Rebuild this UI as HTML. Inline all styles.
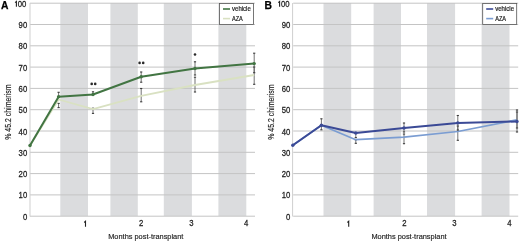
<!DOCTYPE html>
<html><head><meta charset="utf-8"><style>
html,body{margin:0;padding:0;background:#fff;}
body{width:520px;height:242px;overflow:hidden;}
svg{display:block;}
svg{will-change:transform;}
text{font-family:"Liberation Sans", sans-serif;}
</style></head><body>
<svg width="520" height="242" viewBox="0 0 520 242">
<rect width="520" height="242" fill="#fff"/>

<g transform="translate(0,0)">
<rect x="60.3" y="3" width="27.700000000000003" height="213" fill="#dbdcde"/>
<rect x="110.4" y="3" width="27.400000000000006" height="213" fill="#dbdcde"/>
<rect x="163.8" y="3" width="28.099999999999994" height="213" fill="#dbdcde"/>
<rect x="218.4" y="3" width="27.900000000000006" height="213" fill="#dbdcde"/>
<line x1="30" x2="255" y1="216.2" y2="216.2" stroke="#c4c4c4" stroke-width="1"/>
<line x1="30" x2="255" y1="194.9" y2="194.9" stroke="#c4c4c4" stroke-width="1"/>
<line x1="30" x2="255" y1="173.6" y2="173.6" stroke="#c4c4c4" stroke-width="1"/>
<line x1="30" x2="255" y1="152.3" y2="152.3" stroke="#c4c4c4" stroke-width="1"/>
<line x1="30" x2="255" y1="131.0" y2="131.0" stroke="#c4c4c4" stroke-width="1"/>
<line x1="30" x2="255" y1="109.7" y2="109.7" stroke="#c4c4c4" stroke-width="1"/>
<line x1="30" x2="255" y1="88.4" y2="88.4" stroke="#c4c4c4" stroke-width="1"/>
<line x1="30" x2="255" y1="67.1" y2="67.1" stroke="#c4c4c4" stroke-width="1"/>
<line x1="30" x2="255" y1="45.8" y2="45.8" stroke="#c4c4c4" stroke-width="1"/>
<line x1="30" x2="255" y1="24.5" y2="24.5" stroke="#c4c4c4" stroke-width="1"/>
<line x1="30" x2="255" y1="3.2" y2="3.2" stroke="#c4c4c4" stroke-width="1"/>
<line x1="30" x2="30" y1="3" y2="216.5" stroke="#cfcfcf" stroke-width="1"/>
<text transform="translate(27.20,219.70) scale(0.92,1)" font-size="8.4" text-anchor="end" fill="#222" stroke="#222" stroke-width="0.25">0</text>
<text transform="translate(27.20,198.40) scale(0.92,1)" font-size="8.4" text-anchor="end" fill="#222" stroke="#222" stroke-width="0.25">10</text>
<text transform="translate(27.20,177.10) scale(0.92,1)" font-size="8.4" text-anchor="end" fill="#222" stroke="#222" stroke-width="0.25">20</text>
<text transform="translate(27.20,155.80) scale(0.92,1)" font-size="8.4" text-anchor="end" fill="#222" stroke="#222" stroke-width="0.25">30</text>
<text transform="translate(27.20,134.50) scale(0.92,1)" font-size="8.4" text-anchor="end" fill="#222" stroke="#222" stroke-width="0.25">40</text>
<text transform="translate(27.20,113.20) scale(0.92,1)" font-size="8.4" text-anchor="end" fill="#222" stroke="#222" stroke-width="0.25">50</text>
<text transform="translate(27.20,91.90) scale(0.92,1)" font-size="8.4" text-anchor="end" fill="#222" stroke="#222" stroke-width="0.25">60</text>
<text transform="translate(27.20,70.60) scale(0.92,1)" font-size="8.4" text-anchor="end" fill="#222" stroke="#222" stroke-width="0.25">70</text>
<text transform="translate(27.20,49.30) scale(0.92,1)" font-size="8.4" text-anchor="end" fill="#222" stroke="#222" stroke-width="0.25">80</text>
<text transform="translate(27.20,28.00) scale(0.92,1)" font-size="8.4" text-anchor="end" fill="#222" stroke="#222" stroke-width="0.25">90</text>
<text transform="translate(26.30,7.00) scale(0.92,1)" font-size="8.4" text-anchor="end" fill="#222" stroke="#222" stroke-width="0.25">00</text>
<path d="M15.1,2.6 L16.4,1.4 L16.4,6.8" fill="none" stroke="#222" stroke-width="1.1" stroke-linejoin="miter"/>
<path d="M84.20,222.5 L85.50,221.3 L85.50,226.7" fill="none" stroke="#222" stroke-width="1.1" stroke-linejoin="miter"/>
<text transform="translate(141.2,226.1) scale(0.92,1)" font-size="8.4" text-anchor="middle" fill="#222" stroke="#222" stroke-width="0.25">2</text>
<text transform="translate(191.3,226.1) scale(0.92,1)" font-size="8.4" text-anchor="middle" fill="#222" stroke="#222" stroke-width="0.25">3</text>
<text transform="translate(246.2,226.1) scale(0.92,1)" font-size="8.4" text-anchor="middle" fill="#222" stroke="#222" stroke-width="0.25">4</text>
<text x="145.8" y="238.6" font-size="7.4" text-anchor="middle" fill="#222" stroke="#222" stroke-width="0.15">Months post-transplant</text>
<text transform="translate(11,112.2) rotate(-90) scale(0.85,1)" x="0" y="0" font-size="8.2" text-anchor="middle" fill="#222" stroke="#222" stroke-width="0.15">% 45.2 chimerism</text>
<text x="1.1" y="8.6" font-size="10.3" font-weight="bold" fill="#000" stroke="#000" stroke-width="0.25">A</text>
<g transform="translate(0,0)">
<line x1="58.6" x2="58.6" y1="103.4" y2="107.6" stroke="#5a5a5a" stroke-width="0.85"/><line x1="57.5" x2="59.7" y1="103.4" y2="103.4" stroke="#3c3c3c" stroke-width="1.1"/><line x1="57.5" x2="59.7" y1="107.6" y2="107.6" stroke="#3c3c3c" stroke-width="1.1"/>
<line x1="93" x2="93" y1="108.2" y2="113.4" stroke="#5a5a5a" stroke-width="0.85"/><line x1="91.9" x2="94.1" y1="108.2" y2="108.2" stroke="#3c3c3c" stroke-width="1.1"/><line x1="91.9" x2="94.1" y1="113.4" y2="113.4" stroke="#3c3c3c" stroke-width="1.1"/>
<line x1="141.2" x2="141.2" y1="88.5" y2="101.8" stroke="#5a5a5a" stroke-width="0.85"/><line x1="140.1" x2="142.29999999999998" y1="88.5" y2="88.5" stroke="#3c3c3c" stroke-width="1.1"/><line x1="140.1" x2="142.29999999999998" y1="101.8" y2="101.8" stroke="#3c3c3c" stroke-width="1.1"/>
<line x1="195" x2="195" y1="77.2" y2="92" stroke="#5a5a5a" stroke-width="0.85"/><line x1="193.9" x2="196.1" y1="77.2" y2="77.2" stroke="#3c3c3c" stroke-width="1.1"/><line x1="193.9" x2="196.1" y1="92" y2="92" stroke="#3c3c3c" stroke-width="1.1"/>
<line x1="254.2" x2="254.2" y1="67" y2="84.3" stroke="#5a5a5a" stroke-width="0.85"/><line x1="253.1" x2="255.29999999999998" y1="67" y2="67" stroke="#3c3c3c" stroke-width="1.1"/><line x1="253.1" x2="255.29999999999998" y1="84.3" y2="84.3" stroke="#3c3c3c" stroke-width="1.1"/>
<polyline points="30,145.5 58.6,99.5 93,109.2 141.2,95.9 195,85 254.2,75.0" fill="none" stroke="#d9e1c2" stroke-width="1.8" stroke-linejoin="round"/>
<line x1="58.6" x2="58.6" y1="92.3" y2="96.8" stroke="#5a5a5a" stroke-width="0.85"/><line x1="57.5" x2="59.7" y1="92.3" y2="92.3" stroke="#3c3c3c" stroke-width="1.1"/><line x1="57.5" x2="59.7" y1="96.8" y2="96.8" stroke="#3c3c3c" stroke-width="1.1"/>
<line x1="93" x2="93" y1="91.8" y2="94.5" stroke="#5a5a5a" stroke-width="0.85"/><line x1="91.9" x2="94.1" y1="91.8" y2="91.8" stroke="#3c3c3c" stroke-width="1.1"/><line x1="91.9" x2="94.1" y1="94.5" y2="94.5" stroke="#3c3c3c" stroke-width="1.1"/>
<line x1="141.2" x2="141.2" y1="72" y2="82.2" stroke="#5a5a5a" stroke-width="0.85"/><line x1="140.1" x2="142.29999999999998" y1="72" y2="72" stroke="#3c3c3c" stroke-width="1.1"/><line x1="140.1" x2="142.29999999999998" y1="82.2" y2="82.2" stroke="#3c3c3c" stroke-width="1.1"/>
<line x1="195" x2="195" y1="61.8" y2="75" stroke="#5a5a5a" stroke-width="0.85"/><line x1="193.9" x2="196.1" y1="61.8" y2="61.8" stroke="#3c3c3c" stroke-width="1.1"/><line x1="193.9" x2="196.1" y1="75" y2="75" stroke="#3c3c3c" stroke-width="1.1"/>
<line x1="254.2" x2="254.2" y1="53.2" y2="72.7" stroke="#5a5a5a" stroke-width="0.85"/><line x1="253.1" x2="255.29999999999998" y1="53.2" y2="53.2" stroke="#3c3c3c" stroke-width="1.1"/><line x1="253.1" x2="255.29999999999998" y1="72.7" y2="72.7" stroke="#3c3c3c" stroke-width="1.1"/>
<polyline points="30,145.5 58.6,96.8 93,94.5 141.2,76.8 195,68.5 254.2,63.6" fill="none" stroke="#427543" stroke-width="2.0" stroke-linejoin="round"/>
<circle cx="30" cy="145.5" r="1.7" fill="#427543"/>
<circle cx="58.6" cy="96.8" r="1.7" fill="#427543"/>
<circle cx="93" cy="94.5" r="1.7" fill="#427543"/>
<circle cx="141.2" cy="76.8" r="1.7" fill="#427543"/>
<circle cx="195" cy="68.5" r="1.7" fill="#427543"/>
<circle cx="254.2" cy="63.6" r="1.7" fill="#427543"/>
</g>
<circle cx="91.7" cy="83.9" r="1.3" fill="#2a2a2a"/>
<circle cx="95.2" cy="83.9" r="1.3" fill="#2a2a2a"/>
<circle cx="139.6" cy="62.9" r="1.3" fill="#2a2a2a"/>
<circle cx="143.2" cy="62.9" r="1.3" fill="#2a2a2a"/>
<circle cx="195" cy="54.5" r="1.3" fill="#2a2a2a"/>
<rect x="219.5" y="3.5" width="34" height="21" fill="#fff" stroke="#555" stroke-width="0.8"/>
<line x1="223" x2="230" y1="9" y2="9" stroke="#427543" stroke-width="1.6"/>
<line x1="223" x2="230" y1="18.6" y2="18.6" stroke="#d9e1c2" stroke-width="1.6"/>
<text x="232" y="11" font-size="6.3" textLength="18.8" lengthAdjust="spacingAndGlyphs" fill="#222" stroke="#222" stroke-width="0.2">vehicle</text>
<text x="232" y="20.8" font-size="6.3" textLength="10.8" lengthAdjust="spacingAndGlyphs" fill="#222" stroke="#222" stroke-width="0.2">AZA</text>
</g>
<g transform="translate(263.2,0)">
<rect x="60.3" y="3" width="27.700000000000003" height="213" fill="#dbdcde"/>
<rect x="110.4" y="3" width="27.400000000000006" height="213" fill="#dbdcde"/>
<rect x="163.8" y="3" width="28.099999999999994" height="213" fill="#dbdcde"/>
<rect x="218.4" y="3" width="27.900000000000006" height="213" fill="#dbdcde"/>
<line x1="30" x2="255" y1="216.2" y2="216.2" stroke="#c4c4c4" stroke-width="1"/>
<line x1="30" x2="255" y1="194.9" y2="194.9" stroke="#c4c4c4" stroke-width="1"/>
<line x1="30" x2="255" y1="173.6" y2="173.6" stroke="#c4c4c4" stroke-width="1"/>
<line x1="30" x2="255" y1="152.3" y2="152.3" stroke="#c4c4c4" stroke-width="1"/>
<line x1="30" x2="255" y1="131.0" y2="131.0" stroke="#c4c4c4" stroke-width="1"/>
<line x1="30" x2="255" y1="109.7" y2="109.7" stroke="#c4c4c4" stroke-width="1"/>
<line x1="30" x2="255" y1="88.4" y2="88.4" stroke="#c4c4c4" stroke-width="1"/>
<line x1="30" x2="255" y1="67.1" y2="67.1" stroke="#c4c4c4" stroke-width="1"/>
<line x1="30" x2="255" y1="45.8" y2="45.8" stroke="#c4c4c4" stroke-width="1"/>
<line x1="30" x2="255" y1="24.5" y2="24.5" stroke="#c4c4c4" stroke-width="1"/>
<line x1="30" x2="255" y1="3.2" y2="3.2" stroke="#c4c4c4" stroke-width="1"/>
<line x1="29.4" x2="29.4" y1="3" y2="216.5" stroke="#cfcfcf" stroke-width="1"/>
<text transform="translate(27.20,219.70) scale(0.92,1)" font-size="8.4" text-anchor="end" fill="#222" stroke="#222" stroke-width="0.25">0</text>
<text transform="translate(27.20,198.40) scale(0.92,1)" font-size="8.4" text-anchor="end" fill="#222" stroke="#222" stroke-width="0.25">10</text>
<text transform="translate(27.20,177.10) scale(0.92,1)" font-size="8.4" text-anchor="end" fill="#222" stroke="#222" stroke-width="0.25">20</text>
<text transform="translate(27.20,155.80) scale(0.92,1)" font-size="8.4" text-anchor="end" fill="#222" stroke="#222" stroke-width="0.25">30</text>
<text transform="translate(27.20,134.50) scale(0.92,1)" font-size="8.4" text-anchor="end" fill="#222" stroke="#222" stroke-width="0.25">40</text>
<text transform="translate(27.20,113.20) scale(0.92,1)" font-size="8.4" text-anchor="end" fill="#222" stroke="#222" stroke-width="0.25">50</text>
<text transform="translate(27.20,91.90) scale(0.92,1)" font-size="8.4" text-anchor="end" fill="#222" stroke="#222" stroke-width="0.25">60</text>
<text transform="translate(27.20,70.60) scale(0.92,1)" font-size="8.4" text-anchor="end" fill="#222" stroke="#222" stroke-width="0.25">70</text>
<text transform="translate(27.20,49.30) scale(0.92,1)" font-size="8.4" text-anchor="end" fill="#222" stroke="#222" stroke-width="0.25">80</text>
<text transform="translate(27.20,28.00) scale(0.92,1)" font-size="8.4" text-anchor="end" fill="#222" stroke="#222" stroke-width="0.25">90</text>
<text transform="translate(26.30,7.00) scale(0.92,1)" font-size="8.4" text-anchor="end" fill="#222" stroke="#222" stroke-width="0.25">00</text>
<path d="M15.1,2.6 L16.4,1.4 L16.4,6.8" fill="none" stroke="#222" stroke-width="1.1" stroke-linejoin="miter"/>
<path d="M84.20,222.5 L85.50,221.3 L85.50,226.7" fill="none" stroke="#222" stroke-width="1.1" stroke-linejoin="miter"/>
<text transform="translate(141.2,226.1) scale(0.92,1)" font-size="8.4" text-anchor="middle" fill="#222" stroke="#222" stroke-width="0.25">2</text>
<text transform="translate(191.3,226.1) scale(0.92,1)" font-size="8.4" text-anchor="middle" fill="#222" stroke="#222" stroke-width="0.25">3</text>
<text transform="translate(246.2,226.1) scale(0.92,1)" font-size="8.4" text-anchor="middle" fill="#222" stroke="#222" stroke-width="0.25">4</text>
<text x="145.8" y="238.6" font-size="7.4" text-anchor="middle" fill="#222" stroke="#222" stroke-width="0.15">Months post-transplant</text>
<text transform="translate(11,112.2) rotate(-90) scale(0.85,1)" x="0" y="0" font-size="8.2" text-anchor="middle" fill="#222" stroke="#222" stroke-width="0.15">% 45.2 chimerism</text>
<text x="1.4" y="8.6" font-size="10.3" font-weight="bold" fill="#000" stroke="#000" stroke-width="0.25">B</text>
<g transform="translate(-0.4,0)">
<line x1="93" x2="93" y1="139.8" y2="143.3" stroke="#5a5a5a" stroke-width="0.85"/><line x1="91.9" x2="94.1" y1="139.8" y2="139.8" stroke="#3c3c3c" stroke-width="1.1"/><line x1="91.9" x2="94.1" y1="143.3" y2="143.3" stroke="#3c3c3c" stroke-width="1.1"/>
<line x1="141.2" x2="141.2" y1="134" y2="143.7" stroke="#5a5a5a" stroke-width="0.85"/><line x1="140.1" x2="142.29999999999998" y1="134" y2="134" stroke="#3c3c3c" stroke-width="1.1"/><line x1="140.1" x2="142.29999999999998" y1="143.7" y2="143.7" stroke="#3c3c3c" stroke-width="1.1"/>
<line x1="195" x2="195" y1="126" y2="140.3" stroke="#5a5a5a" stroke-width="0.85"/><line x1="193.9" x2="196.1" y1="126" y2="126" stroke="#3c3c3c" stroke-width="1.1"/><line x1="193.9" x2="196.1" y1="140.3" y2="140.3" stroke="#3c3c3c" stroke-width="1.1"/>
<line x1="254.2" x2="254.2" y1="112" y2="128" stroke="#5a5a5a" stroke-width="0.85"/><line x1="253.1" x2="255.29999999999998" y1="112" y2="112" stroke="#3c3c3c" stroke-width="1.1"/><line x1="253.1" x2="255.29999999999998" y1="128" y2="128" stroke="#3c3c3c" stroke-width="1.1"/>
<polyline points="30,145.2 58.6,125.2 93,139.7 141.2,137.2 195,131.5 254.2,119.8" fill="none" stroke="#7b9dd2" stroke-width="1.7" stroke-linejoin="round"/>
<line x1="58.6" x2="58.6" y1="118.8" y2="129.8" stroke="#5a5a5a" stroke-width="0.85"/><line x1="57.5" x2="59.7" y1="118.8" y2="118.8" stroke="#3c3c3c" stroke-width="1.1"/><line x1="57.5" x2="59.7" y1="129.8" y2="129.8" stroke="#3c3c3c" stroke-width="1.1"/>
<line x1="93" x2="93" y1="133.5" y2="137.6" stroke="#5a5a5a" stroke-width="0.85"/><line x1="91.9" x2="94.1" y1="133.5" y2="133.5" stroke="#3c3c3c" stroke-width="1.1"/><line x1="91.9" x2="94.1" y1="137.6" y2="137.6" stroke="#3c3c3c" stroke-width="1.1"/>
<line x1="141.2" x2="141.2" y1="123" y2="132" stroke="#5a5a5a" stroke-width="0.85"/><line x1="140.1" x2="142.29999999999998" y1="123" y2="123" stroke="#3c3c3c" stroke-width="1.1"/><line x1="140.1" x2="142.29999999999998" y1="132" y2="132" stroke="#3c3c3c" stroke-width="1.1"/>
<line x1="195" x2="195" y1="115.5" y2="130" stroke="#5a5a5a" stroke-width="0.85"/><line x1="193.9" x2="196.1" y1="115.5" y2="115.5" stroke="#3c3c3c" stroke-width="1.1"/><line x1="193.9" x2="196.1" y1="130" y2="130" stroke="#3c3c3c" stroke-width="1.1"/>
<line x1="254.2" x2="254.2" y1="110" y2="132" stroke="#5a5a5a" stroke-width="0.85"/><line x1="253.1" x2="255.29999999999998" y1="110" y2="110" stroke="#3c3c3c" stroke-width="1.1"/><line x1="253.1" x2="255.29999999999998" y1="132" y2="132" stroke="#3c3c3c" stroke-width="1.1"/>
<polyline points="30,145.2 58.6,125.2 93,133 141.2,128 195,122.9 254.2,121.5" fill="none" stroke="#3b4a96" stroke-width="2.0" stroke-linejoin="round"/>
<circle cx="30" cy="145.2" r="1.7" fill="#3b4a96"/>
<circle cx="58.6" cy="125.2" r="1.7" fill="#3b4a96"/>
<circle cx="93" cy="133" r="1.7" fill="#3b4a96"/>
<circle cx="141.2" cy="128" r="1.7" fill="#3b4a96"/>
<circle cx="195" cy="122.9" r="1.7" fill="#3b4a96"/>
<circle cx="254.2" cy="121.5" r="1.7" fill="#3b4a96"/>
</g>
<rect x="219.5" y="3.5" width="34" height="21" fill="#fff" stroke="#555" stroke-width="0.8"/>
<line x1="223" x2="230" y1="9" y2="9" stroke="#3b4a96" stroke-width="1.6"/>
<line x1="223" x2="230" y1="18.6" y2="18.6" stroke="#7b9dd2" stroke-width="1.6"/>
<text x="232" y="11" font-size="6.3" textLength="18.8" lengthAdjust="spacingAndGlyphs" fill="#222" stroke="#222" stroke-width="0.2">vehicle</text>
<text x="232" y="20.8" font-size="6.3" textLength="10.8" lengthAdjust="spacingAndGlyphs" fill="#222" stroke="#222" stroke-width="0.2">AZA</text>
</g>
</svg>
</body></html>
